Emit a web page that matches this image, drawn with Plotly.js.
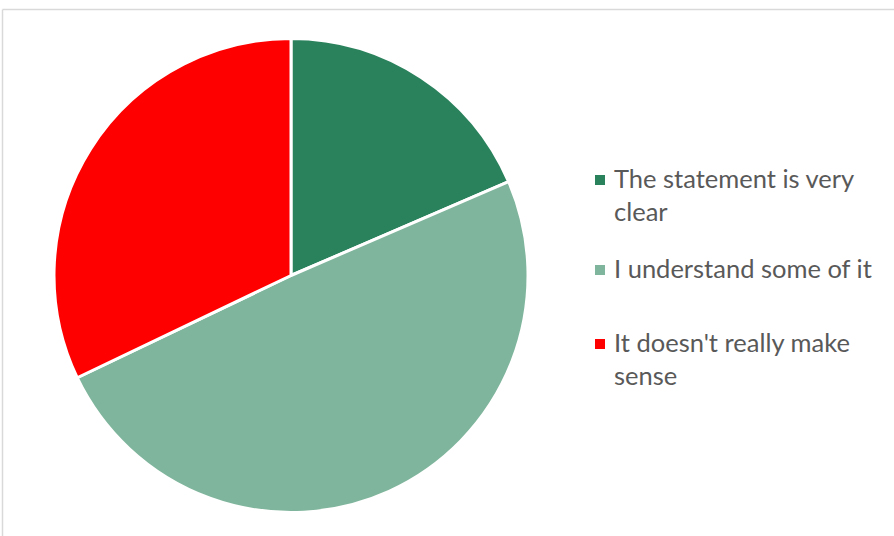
<!DOCTYPE html>
<html>
<head>
<meta charset="utf-8">
<script src="https://cdn.plot.ly/plotly-3.0.1.min.js"></script>
<style>
html,body{margin:0;padding:0;background:#fff;}
#chart{width:894px;height:536px;}
</style>
</head>
<body>
<div id="chart"></div>
<script>
// Data
const categories = ["The statement is very clear", "I understand some of it", "It doesn't really make sense"];
const legendLines = ["The statement is very<br>clear", "I understand some of it", "It doesn't really make<br>sense"];
const values = [15, 40, 26];
const colors = ["#2A825D", "#7FB59C", "#FF0000"];

const W = 894, H = 536;
const px = x => x / W;
const py = y => 1 - y / H;

// Pie geometry (pixels)
const cx = 291, cy = 275.5, r = 237;

const trace = {
  type: "pie",
  labels: categories,
  values: values,
  sort: false,
  direction: "clockwise",
  rotation: 0,
  textinfo: "none",
  hoverinfo: "label+percent",
  marker: { colors: colors, line: { color: "#ffffff", width: 3 } },
  domain: { x: [px(cx - r), px(cx + r)], y: [py(cy + r), py(cy - r)] },
  showlegend: false
};

// Legend drawn as annotations + squares
const legendTop = [170, 260, 334];
const annotations = [];
const shapes = [
  { type: "line", xref: "paper", yref: "paper", x0: px(2.5), x1: 1, y0: py(9.5), y1: py(9.5), line: { color: "#D9D9D9", width: 1.5 } },
  { type: "line", xref: "paper", yref: "paper", x0: px(2.5), x1: px(2.5), y0: py(9.5), y1: 0, line: { color: "#D9D9D9", width: 1.5 } }
];
legendLines.forEach((t, i) => {
  annotations.push({
    xref: "paper", yref: "paper", x: px(612), y: py(legendTop[i] - 9),
    xanchor: "left", yanchor: "top", align: "left", showarrow: false,
    text: t, font: { family: "Lato, 'Open Sans', sans-serif", size: 25.5, color: "#595959" }
  });
  shapes.push({
    type: "rect", xref: "paper", yref: "paper",
    x0: px(595), x1: px(605), y0: py(legendTop[i] + 5), y1: py(legendTop[i] + 15),
    fillcolor: colors[i], line: { width: 0 }
  });
});

const layout = {
  width: W, height: H,
  margin: { l: 0, r: 0, t: 0, b: 0 },
  paper_bgcolor: "#ffffff",
  showlegend: false,
  annotations: annotations,
  shapes: shapes
};

Plotly.newPlot("chart", [trace], layout, { displayModeBar: false, staticPlot: true });
</script>
</body>
</html>
